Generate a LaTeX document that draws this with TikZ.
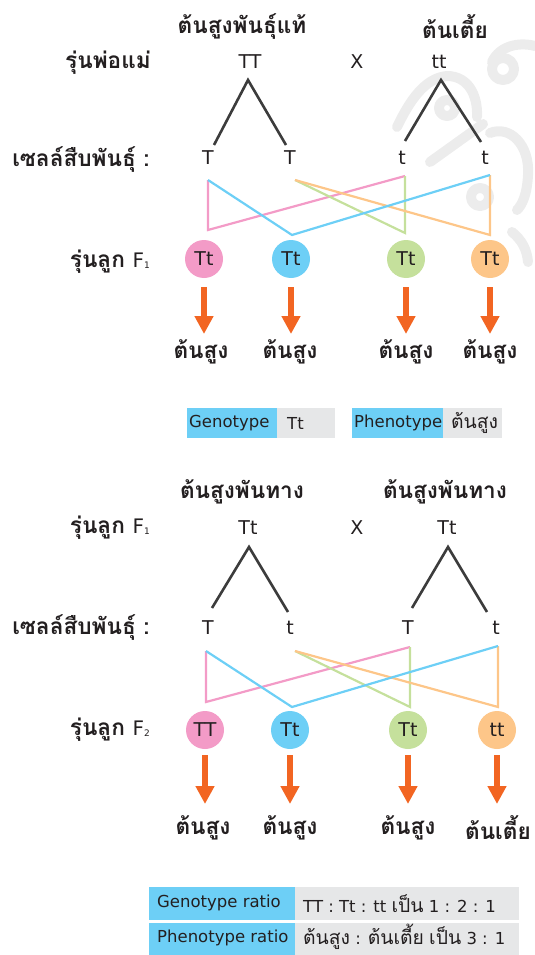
\documentclass[tikz,border=0pt]{standalone}
\usepackage{fontspec}
\setmainfont{DejaVu Sans}
\newfontfamily\thfont[Script=Thai,Scale=1.33]{Loma}
\usetikzlibrary{arrows.meta}
\definecolor{pk}{HTML}{F39BC7}
\definecolor{bl}{HTML}{6DCFF6}
\definecolor{gr}{HTML}{C5E09C}
\definecolor{og}{HTML}{FDC689}
\definecolor{ar}{HTML}{F26522}
\definecolor{dk}{HTML}{3C3C3C}
\definecolor{tx}{HTML}{231F20}
\definecolor{lg}{HTML}{E6E7E8}
\definecolor{wm}{HTML}{ECECEC}
\newcommand{\thtxt}[1]{{\fontsize{14.5}{16}\selectfont\thfont #1}}
\newcommand{\Fsub}[1]{{\normalfont\mdseries\fontsize{20}{22}\selectfont F\raisebox{-1pt}{\fontsize{9}{9}\selectfont #1}}}
\tikzset{
  thb/.style={font=\fontsize{17}{19}\selectfont\thfont\bfseries, text=tx, inner sep=0pt},
  lat/.style={font=\fontsize{19}{21}\selectfont, text=tx, inner sep=0pt},
  tri/.style={draw=dk, line width=2.6pt},
  ln/.style={line width=2.2pt, line join=miter, line cap=butt},
  ball/.style={circle, minimum size=38pt, inner sep=0pt, font=\fontsize{19}{21}\selectfont, text=tx},
  arr/.style={draw=ar, line width=6pt, -{Triangle[width=18pt,length=18pt]}},
  lgd/.style={font=\fontsize{16.5}{18}\selectfont, text=tx, inner sep=0pt, anchor=west},
  wmk/.style={draw=wm, line width=10pt, line cap=round, line join=round}
}
\begin{document}
\begin{tikzpicture}[x=1pt,y=-1pt]
\useasboundingbox (0,0) rectangle (535,955);
% watermark
\draw[wmk] (397,127) .. controls (410,100) and (425,78) .. (447,76) .. controls (468,76) and (478,95) .. (477,117);
\draw[wmk] (447,108) circle (8);
\draw[wmk] (430,162) -- (483,124);
\draw[wmk] (503,69) circle (11);
\draw[wmk] (492,62) .. controls (500,45) and (520,42) .. (535,46);
\draw[wmk] (490,133) .. controls (510,125) and (530,145) .. (528,175) .. controls (527,195) and (522,205) .. (517,210);
\draw[wmk] (480,197) circle (9);
\draw[wmk] (512,232) .. controls (522,240) and (527,250) .. (528,262);

% ---------- TOP ----------
\node[thb] (h1) at (242,27) {ต้นสูงพันธุ์แท้};
\node[thb] (h2) at (455,27) {ต้นเตี้ย};
\node[thb, anchor=east] (L1) at (151,63) {รุ่นพ่อแม่};
\node[thb, anchor=east] (L2) at (150,160) {เซลล์สืบพันธุ์ :};
\node[thb, anchor=east] (L3) at (150,262) {รุ่นลูก \Fsub{1}};

\node[lat] (p1) at (250,62) {TT};
\node[lat] (x1) at (357,62) {X};
\node[lat] (p2) at (439,62) {tt};

\coordinate (a1) at (248,80);
\coordinate (a2) at (441,80);
\coordinate (a1l) at (214,145);
\coordinate (a1r) at (286,145);
\coordinate (a2l) at (405,141);
\coordinate (a2r) at (481,142);
\draw[tri] (a1l) -- (a1) -- (a1r);
\draw[tri] (a2l) -- (a2) -- (a2r);

\node[lat] (g1) at (208,158) {T};
\node[lat] (g2) at (290,158) {T};
\node[lat] (g3) at (402,158) {t};
\node[lat] (g4) at (485,158) {t};

\coordinate (u1) at (208,180);
\coordinate (u2) at (295,180);
\coordinate (u3) at (405,176);
\coordinate (u4) at (490,175);
\coordinate (d1) at (208,230);
\coordinate (d2) at (292,235);
\coordinate (d3) at (405,233);
\coordinate (d4) at (490,235);
\draw[ln, draw=pk] (u1) -- (d1) -- (u3);
\draw[ln, draw=gr] (u2) -- (d3) -- (u3);
\draw[ln, draw=og] (u2) -- (d4) -- (u4);
\draw[ln, draw=bl] (u1) -- (d2) -- (u4);

\node[ball, fill=pk] (c1) at (204,259) {Tt};
\node[ball, fill=bl] (c2) at (291,259) {Tt};
\node[ball, fill=gr] (c3) at (406,259) {Tt};
\node[ball, fill=og] (c4) at (490,259) {Tt};

\node[thb] (f1) at (201,352) {ต้นสูง};
\node[thb] (f2) at (290,352) {ต้นสูง};
\node[thb] (f3) at (406,352) {ต้นสูง};
\node[thb] (f4) at (490,352) {ต้นสูง};
\foreach \i in {1,2,3,4}{
  \draw[arr] ([yshift=-9pt]c\i.south) -- ([yshift=-75pt]c\i.center);
}

\fill[bl] (187,408) rectangle (277,438);
\fill[lg] (277,408) rectangle (335,438);
\node[lgd] (k1) at (189,423) {Genotype};
\node[lgd] (k2) at (287,423) {Tt};
\fill[bl] (352,408) rectangle (443,438);
\fill[lg] (443,408) rectangle (502,438);
\node[lgd] (k3) at (354,423) {Phenotype};
\node[lgd] (k4) at (451,423) {\thtxt{ต้นสูง}};

% ---------- BOTTOM ----------
\node[thb] (h3) at (242,492) {ต้นสูงพันทาง};
\node[thb] (h4) at (445,492) {ต้นสูงพันทาง};
\node[thb, anchor=east] (L4) at (150,528) {รุ่นลูก \Fsub{1}};
\node[thb, anchor=east] (L5) at (150,628) {เซลล์สืบพันธุ์ :};
\node[thb, anchor=east] (L6) at (150,730) {รุ่นลูก \Fsub{2}};

\node[lat] (p3) at (248,528) {Tt};
\node[lat] (x2) at (357,528) {X};
\node[lat] (p4) at (447,528) {Tt};

\coordinate (b1) at (249,547);
\coordinate (b2) at (448,547);
\coordinate (b1l) at (212,608);
\coordinate (b1r) at (288,612);
\coordinate (b2l) at (412,608);
\coordinate (b2r) at (487,612);
\draw[tri] (b1l) -- (b1) -- (b1r);
\draw[tri] (b2l) -- (b2) -- (b2r);

\node[lat] (g5) at (208,628) {T};
\node[lat] (g6) at (290,628) {t};
\node[lat] (g7) at (408,628) {T};
\node[lat] (g8) at (496,628) {t};

\coordinate (v1) at (206,651);
\coordinate (v2) at (295,651);
\coordinate (v3) at (410,647);
\coordinate (v4) at (498,646);
\coordinate (w1) at (206,702);
\coordinate (w2) at (292,707);
\coordinate (w3) at (410,707);
\coordinate (w4) at (498,707);
\draw[ln, draw=pk] (v1) -- (w1) -- (v3);
\draw[ln, draw=gr] (v2) -- (w3) -- (v3);
\draw[ln, draw=og] (v2) -- (w4) -- (v4);
\draw[ln, draw=bl] (v1) -- (w2) -- (v4);

\node[ball, fill=pk] (c5) at (205,730) {TT};
\node[ball, fill=bl] (c6) at (290,730) {Tt};
\node[ball, fill=gr] (c7) at (408,730) {Tt};
\node[ball, fill=og] (c8) at (497,730) {tt};

\node[thb] (f5) at (203,828) {ต้นสูง};
\node[thb] (f6) at (290,828) {ต้นสูง};
\node[thb] (f7) at (408,828) {ต้นสูง};
\node[thb] (f8) at (498,828) {ต้นเตี้ย};
\foreach \i in {5,6,7,8}{
  \draw[arr] ([yshift=-6pt]c\i.south) -- ([yshift=-74pt]c\i.center);
}

\fill[bl] (149,887) rectangle (295,920);
\fill[lg] (295,887) rectangle (519,920);
\fill[bl] (149,923) rectangle (295,955);
\fill[lg] (295,923) rectangle (519,955);
\node[lgd] (r1) at (157,903) {Genotype ratio};
\node[lgd] (r2) at (303,904) {TT : Tt : tt \thtxt{เป็น} 1 : 2 : 1};
\node[lgd] (r3) at (157,938) {Phenotype ratio};
\node[lgd] (r4) at (303,937) {\thtxt{ต้นสูง} : \thtxt{ต้นเตี้ย} \thtxt{เป็น} 3 : 1};
\end{tikzpicture}
\end{document}
